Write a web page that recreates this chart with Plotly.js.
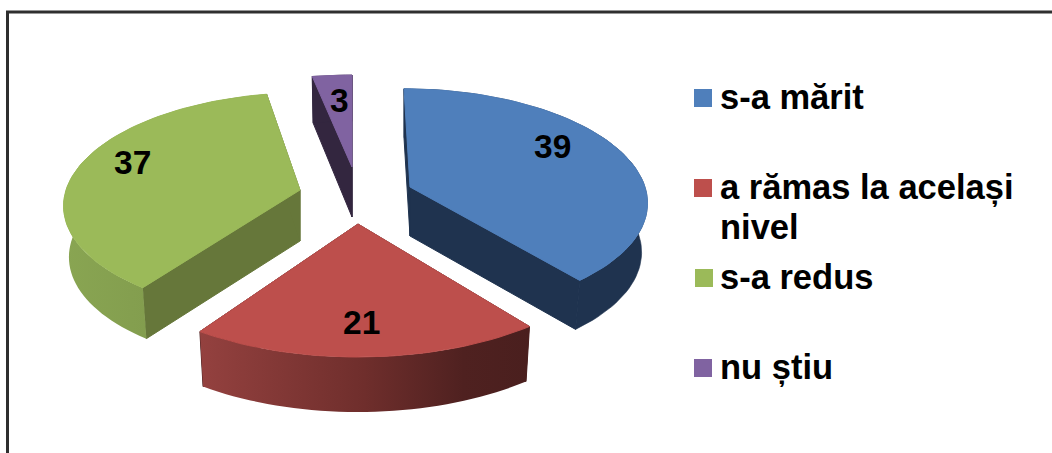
<!DOCTYPE html>
<html>
<head>
<meta charset="utf-8">
<script src="https://cdn.plot.ly/plotly-3.0.1.min.js"></script>
<style>html,body{margin:0;padding:0;background:#fff}#chart{width:1052px;height:453px}</style>
</head>
<body>
<div id="chart"></div>
<script>
var categories = ["s-a mărit", "a rămas la același nivel", "s-a redus", "nu știu"];
var values = [39, 21, 37, 3];
var legendLines = [["s-a mărit"], ["a rămas la același", "nivel"], ["s-a redus"], ["nu știu"]];

var topColors = ["#4f7fbb", "#bd4f4c", "#9bba59", "#8063a1"];
var sideColors = ["#1f334f", "#4a1f1e", "#66773a", "#33263f"];
var rimGradients = [
  null,
  [[0, "#94413f"], [0.5, "#6f2e2c"], [0.8, "#4f2120"], [1, "#4a1f1e"]],
  [[0, "#89a552"], [1, "#7a9349"]],
  null
];

// Projection of each exploded slice: apex on screen, radii, perspective, shear, extrusion
var geom = [
  {ax: 410, ay: 187, rx: 235, ry: 110, p: 0.12, shear: -6, depth: 49, fx: 0.975, fy: 1.0},
  {ax: 358, ay: 224, rx: 269, ry: 133, p: 0,    shear: 0,  depth: 55, fx: 0.98,  fy: 1.0},
  {ax: 300, ay: 190, rx: 234, ry: 109, p: 0.12, shear: 6,  depth: 51, fx: 0.977, fy: 1.0},
  {ax: 352, ay: 167, rx: 237, ry: 103, p: 0.12, shear: 0,  depth: 50, fx: 0.98,  fy: 1.04}
];
var labelPos = [[552, 146], [361, 322], [132, 162], [339, 100]];
var legendSquares = [[703, 98], [703, 188], [704, 278], [703, 368]];
var legendTextX = 720;
var legendBaselines = [[110], [200, 240], [290], [380]];
var fontSizeLabel = 33.5, fontSizeLegend = 34.5;

function project(g, deg, bottom) {
  var t = deg * Math.PI / 180, u = Math.sin(t), v = Math.cos(t);
  var sc = 1 / (1 + g.p * v);
  var fx = bottom ? g.fx : 1, fy = bottom ? g.fy : 1, d = bottom ? g.depth : 0;
  return [g.ax + g.rx * fx * u * sc + g.shear * v, g.ay + d - g.ry * fy * v * sc];
}
function arc(g, a, b, bottom) {
  var out = [], n = Math.max(6, Math.ceil(Math.abs(b - a) / 2));
  for (var i = 0; i <= n; i++) out.push(project(g, a + (b - a) * i / n, bottom));
  return out;
}
function poly(pts, color, gradient, stroke) {
  var tr = {
    type: "scatter", mode: stroke ? "lines" : "none", fill: "toself", hoverinfo: "skip", showlegend: false,
    x: pts.map(function (p) { return p[0]; }).concat([pts[0][0]]),
    y: pts.map(function (p) { return p[1]; }).concat([pts[0][1]]),
    fillcolor: color
  };
  if (stroke) tr.line = {color: color, width: stroke};
  if (gradient) tr.fillgradient = {type: "horizontal", colorscale: gradient};
  return tr;
}

var traces = [], total = values.reduce(function (a, b) { return a + b; }, 0), cum = 0;
var order = [3, 0, 2, 1];
var spans = values.map(function (v) { var s = [cum, cum + v * 360 / total]; cum = s[1]; return s; });
order.forEach(function (i) {
  var g = geom[i], a = spans[i][0], b = spans[i][1];
  var apexT = [g.ax, g.ay], apexB = [g.ax, g.ay + g.depth];
  traces.push(poly([apexT, project(g, a, false), project(g, a, true), apexB], sideColors[i], null, 1));
  traces.push(poly([apexT, project(g, b, false), project(g, b, true), apexB], sideColors[i], null, 1));
  traces.push(poly(arc(g, a, b, false).concat(arc(g, b, a, true)), sideColors[i], rimGradients[i], rimGradients[i] ? 0 : 0.6));
  traces.push(poly([apexT].concat(arc(g, a, b, false)), topColors[i], null, 1));
});

categories.forEach(function (c, i) {
  traces.push({
    type: "scatter", mode: "markers", name: c, showlegend: false, hoverinfo: "name",
    x: [legendSquares[i][0]], y: [legendSquares[i][1]],
    marker: {symbol: "square", size: 18, color: topColors[i], line: {width: 0}}
  });
});

var font = "'Liberation Sans', Arial, sans-serif";
var annotations = values.map(function (v, i) {
  return {
    text: String(v), x: labelPos[i][0], y: labelPos[i][1], xref: "x", yref: "y",
    showarrow: false, xanchor: "center", yanchor: "middle",
    font: {family: font, size: fontSizeLabel, color: "#000", weight: 700}
  };
});
legendLines.forEach(function (lines, i) {
  lines.forEach(function (t, j) {
    annotations.push({
      text: t, x: legendTextX, y: legendBaselines[i][j] - 13, xref: "x", yref: "y",
      showarrow: false, xanchor: "left", yanchor: "middle", xshift: -2,
      font: {family: font, size: fontSizeLegend, color: "#000", weight: 700}
    });
  });
});

var layout = {
  width: 1052, height: 453,
  margin: {l: 0, r: 0, t: 0, b: 0},
  paper_bgcolor: "#fff", plot_bgcolor: "#fff",
  showlegend: false,
  xaxis: {range: [0, 1052], visible: false, fixedrange: true},
  yaxis: {range: [453, 0], visible: false, fixedrange: true},
  shapes: [{type: "path", path: "M7.5,453 L7.5,12 L1052,12", xref: "x", yref: "y",
            line: {color: "#2f2f2f", width: 3}}],
  annotations: annotations
};
Plotly.newPlot("chart", traces, layout, {displayModeBar: false, staticPlot: false});
</script>
</body>
</html>
